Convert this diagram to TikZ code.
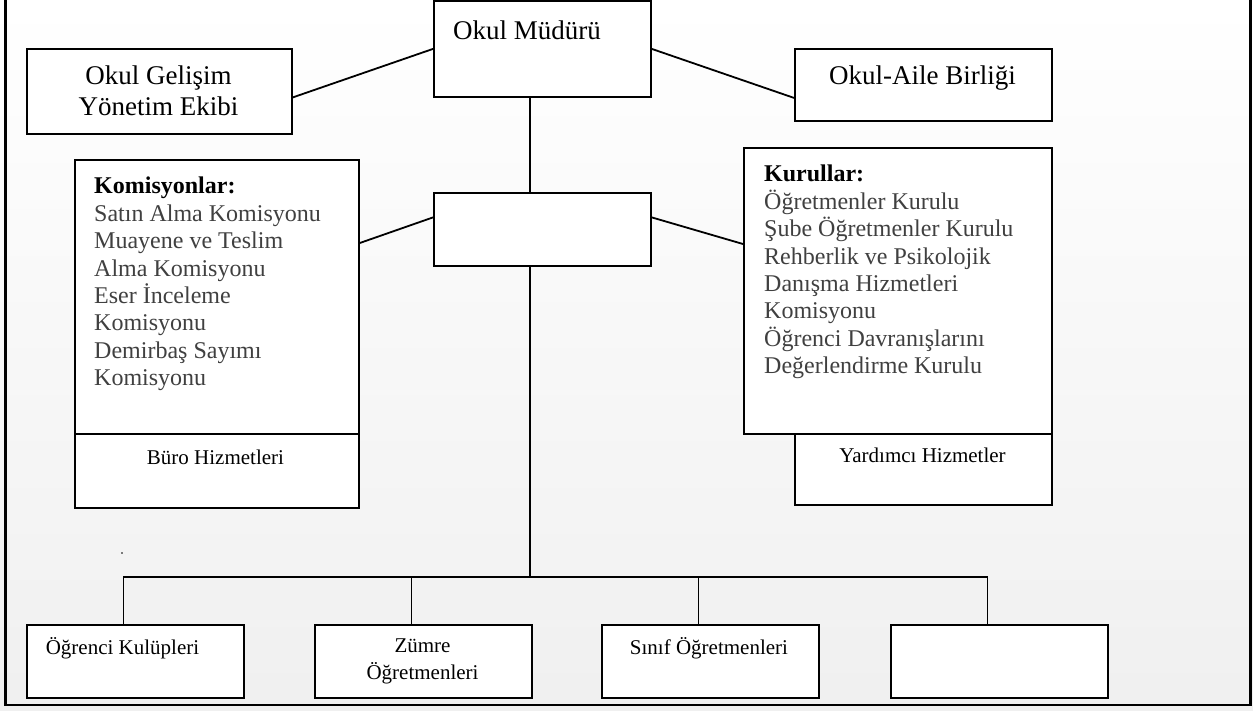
\documentclass[tikz,border=0pt]{standalone}
\usepackage{fontspec}
\setmainfont{Liberation Serif}

\begin{document}
\begin{tikzpicture}[x=1pt,y=-1pt]
    \tikzstyle{box}=[rectangle,draw=black,line width=1.8pt,fill=white,anchor=north west,inner sep=0pt]
    \tikzstyle{big}=[font=\fontsize{27}{31}\selectfont,align=center,inner sep=0pt]
    \tikzstyle{lst}=[font=\fontsize{24}{27.4}\selectfont,align=left,anchor=north west,inner sep=0pt,text=black!75]
    \tikzstyle{sml}=[font=\fontsize{21}{27}\selectfont,align=center,inner sep=0pt]
    \tikzstyle{conn}=[line width=1.8pt]

    % background and frame
    \useasboundingbox (0,0) rectangle (1253,710);
    \shade[top color=white,bottom color=black!6] (0,0) rectangle (1253,710);
    \draw[line width=2.2pt] (5.5,0) |- (1250.5,705) -- (1250.5,0);

    % upper boxes
    \node[box,minimum width=217pt,minimum height=96pt] (mud) at (433,0) {};
    \node[box,minimum width=265pt,minimum height=85pt] (gel) at (26,48) {};
    \node[box,minimum width=257pt,minimum height=72pt] (aile) at (794,48) {};
    \node[box,minimum width=284pt,minimum height=274pt] (kom) at (74,159) {};
    \node[box,minimum width=284pt,minimum height=74pt] (buro) at (74,433) {};
    \node[box,minimum width=217pt,minimum height=73pt] (mid) at (433,192) {};
    \node[box,minimum width=308pt,minimum height=286pt] (kur) at (743,147) {};
    \node[box,minimum width=257pt,minimum height=71pt] (yard) at (794,433) {};

    % lower boxes
    \foreach \x/\n in {26/b1,314/b2,601/b3,890/b4}
        \node[box,minimum width=217pt,minimum height=73pt] (\n) at (\x,624) {};

    % texts
    \node[big] (mudT) at (527,30) {Okul Müdürü};
    \node[big] (gelT) at (158.5,91) {Okul Gelişim\\Yönetim Ekibi};
    \node[big] (aileT) at (922.5,78) {Okul-Aile Birliği};

    \node[lst] (komT) at (94,177) {\textbf{\color{black}Komisyonlar:}\\Satın Alma Komisyonu\\Muayene ve Teslim\\Alma Komisyonu\\Eser İnceleme\\Komisyonu\\Demirbaş Sayımı\\Komisyonu};
    \node[lst] (kurT) at (764,165) {\textbf{\color{black}Kurullar:}\\Öğretmenler Kurulu\\Şube Öğretmenler Kurulu\\Rehberlik ve Psikolojik\\Danışma Hizmetleri\\Komisyonu\\Öğrenci Davranışlarını\\Değerlendirme Kurulu};

    \node[sml] (buroT) at (215.5,457) {Büro Hizmetleri};
    \node[sml] (yardT) at (922.5,455) {Yardımcı Hizmetler};
    \node[sml] (b1T) at (122.5,648) {Öğrenci Kulüpleri};
    \node[sml] (b2T) at (422.5,661.5) {Zümre\\Öğretmenleri};
    \node[sml] (b3T) at (709,648) {Sınıf Öğretmenleri};

    % connectors
    \draw[conn] ([yshift=-6pt]gel.east) -- (mud.west);
    \draw[conn] (mud.east) -- ([yshift=-13pt]aile.west);
    \draw[conn] ([yshift=-84pt]kom.north east) -- ([yshift=12pt]mid.west);
    \draw[conn] ([yshift=12pt]mid.east) -- ([yshift=-97pt]kur.north west);

    \coordinate (bar) at (530,577);
    \draw[conn] (mud.south -| bar) -- (mid.north -| bar);
    \draw[conn] (mid.south -| bar) -- (bar);
    \foreach \n in {b1,b2,b3,b4}
        \draw[conn] ([xshift=-12pt]\n.north) |- (bar);

    \fill (122,553) circle (0.8pt);
\end{tikzpicture}
\end{document}
